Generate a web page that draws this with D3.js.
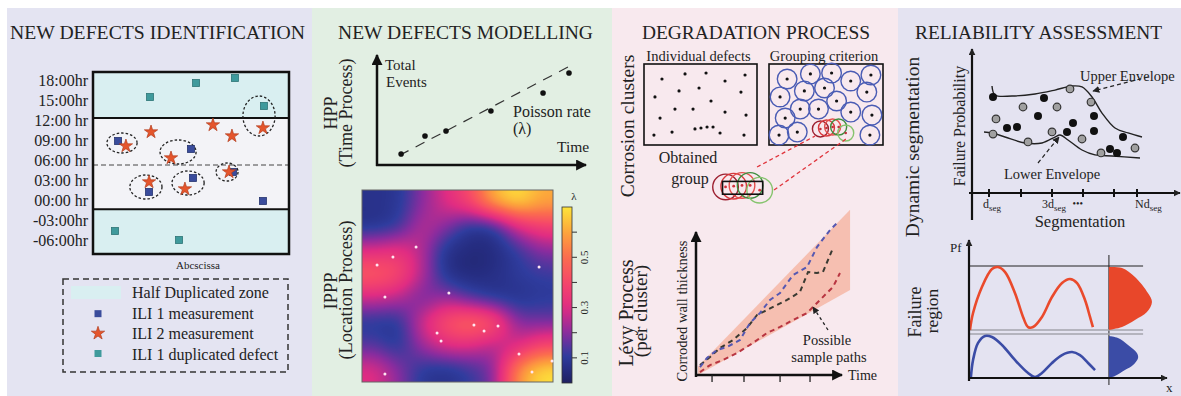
<!DOCTYPE html>
<html><head><meta charset="utf-8">
<script src="https://cdn.jsdelivr.net/npm/d3@7"></script>
<style>
body{margin:0;background:#fff}
svg{display:block}
text{font-family:'Liberation Serif','Times New Roman',serif;fill:#222}
</style>
</head><body>
<svg id="c" width="1181" height="396"></svg>
<script>
// ---------------- DATA ----------------
const panelTitles = ["NEW DEFECTS IDENTIFICATION","NEW DEFECTS MODELLING","DEGRADATION PROCESS","RELIABILITY ASSESSMENT"];

// Panel 1 : new defects identification (x: abscissa 0-100, y: hours)
const hourTicks = [18,15,12,9,6,3,0,-3,-6];
const hourLabels = ["18:00hr","15:00hr","12:00 hr","09:00 hr","06:00 hr","03:00 hr","00:00 hr","-03:00hr","-06:00hr"];
const hourDomain = [-8.1,19.2];
const zoneLimits = [12.3,-1.4];
const midLine = 5.25;
const dupDefects = [[29.1,15.45],[52.6,17.55],[72.4,18.3],[87.2,14.1],[11.2,-4.65],[43.9,-6.0]];
const ili1 = [[12.8,8.85],[50.0,7.65],[71.4,4.2],[51.0,3.3],[28.6,1.2],[86.7,-0.15]];
const ili2 = [[29.6,10.2],[16.8,8.1],[61.2,11.25],[70.9,9.6],[86.7,10.8],[39.8,6.3],[69.4,4.2],[28.6,2.7],[46.9,1.65]];
const matchEllipses = [[14.8,8.55,7.7,1.5],[43.4,7.2,9.2,1.8],[84.7,12.6,8.2,3.0],[68.4,4.2,5.6,1.35],[27.0,1.95,8.2,1.8],[48.5,2.55,8.2,1.8]];
const legendLabels = ["Half Duplicated zone","ILI 1 measurement","ILI 2 measurement","ILI 1 duplicated defect"];

// Panel 2 : HPP
const hppTime = [1.17,2.33,3.35,5.53,8.06,9.32];
const hppEvents = [1.02,2.69,3.15,5.0,6.67,8.52];
const hppRate = [[1.1,0.9],[9.5,9.3]];
// Panel 2 : IPPP intensity grid (rows top -> bottom)
const heatGrid = [
  [0.07,0.09,0.20,0.30,0.40,0.60,0.68,0.60],
  [0.08,0.12,0.25,0.20,0.10,0.12,0.30,0.38],
  [0.30,0.32,0.25,0.08,0.04,0.05,0.12,0.20],
  [0.45,0.40,0.25,0.08,0.04,0.06,0.10,0.12],
  [0.28,0.25,0.18,0.22,0.15,0.10,0.08,0.10],
  [0.10,0.10,0.28,0.42,0.48,0.42,0.20,0.18],
  [0.15,0.10,0.22,0.30,0.30,0.25,0.30,0.40],
  [0.30,0.20,0.10,0.08,0.12,0.20,0.55,0.68]
];
const ipppX = [0.079,0.162,0.283,0.12,0.455,0.393,0.414,0.586,0.639,0.712,0.822,0.89,0.995,0.927,0.12];
const ipppY = [0.609,0.651,0.703,0.443,0.464,0.255,0.214,0.297,0.266,0.292,0.146,0.052,0.109,0.599,0.042];
const lambdaTicks = [0.1,0.2,0.3,0.4,0.5,0.6];
const lambdaLabels = [0.1,0.3,0.5];

// Panel 3 : defects (0-100 box units)
const defectX = [15.9,36.3,54.9,71.7,89.4,9.7,31.0,48.7,85.8,59.3,14.2,27.4,43.4,71.7,90.3,8.8,24.8,45.1,50.4,55.8,61.1,67.3,88.5];
const defectY = [81.5,87.7,88.9,79.0,86.4,59.3,66.7,70.4,65.4,54.3,33.3,44.4,44.4,40.7,37.0,12.3,16.0,19.8,21.0,22.2,22.2,14.8,12.3];
const clusterIdx = [17,18,19,20,21];
const clusterColors = ["#9c2030","#d8383c","#e4504c","#3f8e3f","#86c46e"];
const groupLinks = [[[-10.5,-27.2],[40.4,11.1]],[[4.4,-55.6],[67.5,7.4]]];
// Panel 3 : Levy paths
const levyBlue = [[0.28,0.57],[0.77,1.21],[1.48,1.79],[2.18,2.0],[3.1,2.5],[3.8,3.71],[4.51,4.43],[5.21,5.36],[5.92,5.86],[6.83,7.14],[7.82,7.71],[8.52,9.14],[9.44,10.36],[10.0,10.93]];
const levyDark = [[0.28,0.71],[0.99,1.29],[1.69,1.93],[2.61,2.5],[3.59,3.36],[4.3,4.29],[5.0,4.64],[5.7,5.0],[6.41,5.36],[7.32,5.93],[7.89,7.36],[8.52,7.29],[8.94,7.36],[9.65,9.07]];
const levyRed = [[0.28,0.21],[0.99,0.71],[1.9,1.07],[2.89,1.57],[4.01,2.29],[5.0,3.0],[5.92,3.43],[6.83,3.93],[7.82,4.43],[8.73,5.36],[9.65,6.29],[10.14,7.29]];
const levyBand = [[0.14,0,0.6],[10.85,6.07,11.8]];
const levyTicks = [1.13,3.38,5.92,8.03];

// Panel 4 : reliability (x 0-100, y 0-100)
const pfBlack = [[10.5,68.1],[17.5,46.1],[22.5,46.8],[33,54.6],[36,67.4],[47.5,43.3],[50.5,49.6],[61,54.6],[61,44.0],[69,31.2],[72.5,28.4],[75.5,39.7]];
const pfGray = [[12,52.5],[10.5,41.8],[25.5,61.0],[28,36.2],[42.5,61.0],[40,43.3],[49,73.8],[59.5,64.5],[55,38.3],[64.5,28.4],[81.5,31.9]];
const upperEnv = [[10,75.9],[11.5,69.5],[20,68.8],[31.5,70.2],[41.5,73.0],[50,75.9],[55,75.2],[60,68.1],[65,56.7],[71.5,46.1],[78,42.6],[85,39.7]];
const lowerEnv = [[6,43.3],[10,42.6],[16.5,39.7],[26.5,35.5],[35,35.5],[41.5,39.7],[44,41.1],[48,37.6],[55,30.5],[61.5,27.0],[70,26.2],[84,24.8]];
const segTicks = [8.5,24.5,40,55.5,71,82.5];
const segLabels = [["d","seg",5.5],["3d","seg",35],["•••","",50.3],["Nd","seg",81.5]];
// Panel 4 : failure region (x 0-100, y 0-100)
const pfRed = [[0.5,42.9],[2.1,58.0],[6.7,81.3],[11.9,97.3],[15.0,99.1],[18.7,94.6],[23.8,75.9],[28.0,54.5],[30.6,45.5],[33.2,45.5],[37.8,54.5],[43.0,72.3],[48.2,84.8],[52.3,88.4],[56.0,84.8],[60.1,69.6],[62.7,54.5],[64.2,45.5]];
const pfBlue = [[1.0,0.9],[2.1,16.1],[4.7,31.3],[8.3,37.5],[11.9,36.6],[17.1,29.5],[23.8,16.1],[30.6,4.5],[34.2,0.9],[37.8,4.5],[43.0,13.4],[48.2,20.5],[53.4,23.2],[57.5,20.5],[61.7,13.4],[65.3,7.1]];
const distRed = [[72.5,99.1],[79.3,98.2],[86.0,90.2],[92.7,75.9],[94.8,67.9],[92.2,58.9],[86.0,51.8],[79.3,45.5],[72.5,42.9]];
const distBlue = [[72.5,37.5],[77.2,35.7],[82.4,29.5],[87.0,22.3],[87.6,17.9],[85.0,11.6],[80.8,7.1],[75.6,1.8],[72.5,0]];
const failLimits = [100,42.9,39.3];
const failSplitX = 72.5;

// ---------------- DRAWING ----------------
const svg = d3.select('#c');
const defs = svg.append('defs');
function marker(id, size, color){
  defs.append('marker').attr('id',id).attr('viewBox','0 0 10 10').attr('refX',9).attr('refY',5)
    .attr('markerWidth',size).attr('markerHeight',size).attr('markerUnits','userSpaceOnUse').attr('orient','auto')
    .append('path').attr('d','M0,0L10,5L0,10Z').attr('fill',color);
}
marker('ah',11,'#111'); marker('ahs',7,'#222');

const panels = [[7,312,'#e4e4f2'],[312,612,'#e2efe3'],[612,898,'#f8e9ee'],[898,1181,'#e4e3f1']];
panels.forEach(p=>svg.append('rect').attr('x',p[0]).attr('y',8).attr('width',p[1]-p[0]).attr('height',388).attr('fill',p[2]));
const titleLayout = [[157.5,295],[465.5,255],[756,228],[1038.5,247]];
panelTitles.forEach((t,i)=>svg.append('text').attr('x',titleLayout[i][0]).attr('y',39).attr('text-anchor','middle')
  .attr('font-size',19.5).attr('textLength',titleLayout[i][1]).attr('lengthAdjust','spacingAndGlyphs').text(t));

function rotText(x,y,t,size){
  return svg.append('text').attr('transform',`translate(${x},${y}) rotate(-90)`).attr('text-anchor','middle')
    .attr('dominant-baseline','central').attr('font-size',size).text(t);
}

// ---- Panel 1
{
  const x = d3.scaleLinear().domain([0,100]).range([93,289]);
  const y = d3.scaleLinear().domain(hourDomain).range([254,72]);
  const g = svg.append('g');
  g.append('rect').attr('x',x(0)).attr('y',y(hourDomain[1])).attr('width',x(100)-x(0)).attr('height',y(zoneLimits[0])-y(hourDomain[1])).attr('fill','#d9eff1');
  g.append('rect').attr('x',x(0)).attr('y',y(zoneLimits[0])).attr('width',x(100)-x(0)).attr('height',y(zoneLimits[1])-y(zoneLimits[0])).attr('fill','#f3f3f7');
  g.append('rect').attr('x',x(0)).attr('y',y(zoneLimits[1])).attr('width',x(100)-x(0)).attr('height',y(hourDomain[0])-y(zoneLimits[1])).attr('fill','#d9eff1');
  zoneLimits.forEach(v=>g.append('line').attr('x1',x(0)).attr('x2',x(100)).attr('y1',y(v)).attr('y2',y(v)).attr('stroke','#111').attr('stroke-width',2));
  g.append('line').attr('x1',x(0)).attr('x2',x(100)).attr('y1',y(midLine)).attr('y2',y(midLine)).attr('stroke','#444').attr('stroke-width',1).attr('stroke-dasharray','5,3');
  g.append('rect').attr('x',x(0)).attr('y',y(hourDomain[1])).attr('width',x(100)-x(0)).attr('height',y(hourDomain[0])-y(hourDomain[1])).attr('fill','none').attr('stroke','#111').attr('stroke-width',2.5);
  const ax = g.append('g').attr('transform',`translate(${x(0)-3},0)`).call(d3.axisLeft(y).tickValues(hourTicks).tickFormat((d,i)=>hourLabels[i]).tickSize(0).tickPadding(2));
  ax.select('.domain').remove();
  ax.selectAll('text').attr('font-size',16).attr('font-family',"'Liberation Serif',serif").attr('fill','#222');
  g.selectAll('.el').data(matchEllipses).join('ellipse').attr('cx',d=>x(d[0])).attr('cy',d=>y(d[1]))
    .attr('rx',d=>x(d[2])-x(0)).attr('ry',d=>y(0)-y(d[3])).attr('fill','none').attr('stroke','#222').attr('stroke-width',1.3).attr('stroke-dasharray','2.5,2');
  const sq = (sel,data,fill,stroke)=>sel.selectAll(null).data(data).join('rect').attr('x',d=>x(d[0])-3.5).attr('y',d=>y(d[1])-3.5)
    .attr('width',7).attr('height',7).attr('fill',fill).attr('stroke',stroke).attr('stroke-width',0.8);
  sq(g,dupDefects,'#3f9a9c','#2d7476');
  sq(g,ili1,'#3a4c9c','#26356f');
  const star = d3.symbol(d3.symbolStar,55);
  g.selectAll(null).data(ili2).join('path').attr('d',star).attr('transform',d=>`translate(${x(d[0])},${y(d[1])})`)
    .attr('fill','#e5552c').attr('stroke','#b23c1c').attr('stroke-width',0.7);
  svg.append('text').attr('x',198).attr('y',269).attr('text-anchor','middle').attr('font-size',11).text('Abcscissa');
  // legend
  svg.append('rect').attr('x',63).attr('y',279).attr('width',225).attr('height',93).attr('fill','none').attr('stroke','#333').attr('stroke-width',1.5).attr('stroke-dasharray','6,4');
  const ly = d3.scalePoint().domain(legendLabels).range([293,355]);
  svg.append('rect').attr('x',71).attr('y',ly(legendLabels[0])-7).attr('width',50).attr('height',13).attr('fill','#d9eff1');
  svg.append('rect').attr('x',94.5).attr('y',ly(legendLabels[1])-3.5).attr('width',7).attr('height',7).attr('fill','#3a4c9c');
  svg.append('path').attr('d',star).attr('transform',`translate(98,${ly(legendLabels[2])-1})`).attr('fill','#e5552c').attr('stroke','#b23c1c').attr('stroke-width',0.7);
  svg.append('rect').attr('x',94.5).attr('y',ly(legendLabels[3])-5).attr('width',7).attr('height',7).attr('fill','#3f9a9c');
  legendLabels.forEach(l=>svg.append('text').attr('x',132).attr('y',ly(l)+5).attr('font-size',16).text(l));
}

// ---- Panel 2 : HPP
{
  const x = d3.scaleLinear().domain([0,10]).range([377,583]);
  const y = d3.scaleLinear().domain([0,10]).range([165,57]);
  rotText(331,113,'HPP',18);
  rotText(346,113,'(Time Process)',18);
  svg.append('line').attr('x1',x(0)).attr('y1',y(0)+1).attr('x2',x(0)).attr('y2',55).attr('stroke','#111').attr('stroke-width',2.5).attr('marker-end','url(#ah)');
  svg.append('line').attr('x1',x(0)-1).attr('y1',y(0)).attr('x2',586).attr('y2',y(0)).attr('stroke','#111').attr('stroke-width',2.5).attr('marker-end','url(#ah)');
  svg.append('line').attr('x1',x(hppRate[0][0])).attr('y1',y(hppRate[0][1])).attr('x2',x(hppRate[1][0])).attr('y2',y(hppRate[1][1]))
    .attr('stroke','#333').attr('stroke-width',1.2).attr('stroke-dasharray','10,8');
  svg.selectAll(null).data(hppTime).join('circle').attr('cx',d=>x(d)).attr('cy',(d,i)=>y(hppEvents[i])).attr('r',2.8).attr('fill','#111');
  svg.append('text').attr('x',385).attr('y',70).attr('font-size',15).text('Total');
  svg.append('text').attr('x',386).attr('y',87).attr('font-size',15).text('Events');
  svg.append('text').attr('x',513).attr('y',117).attr('font-size',16).text('Poisson rate');
  svg.append('text').attr('x',513).attr('y',134).attr('font-size',16).text('(λ)');
  svg.append('text').attr('x',557).attr('y',152).attr('font-size',15.5).text('Time');
}

// ---- Panel 2 : IPPP
{
  const x = d3.scaleLinear().domain([0,1]).range([362,553]);
  const y = d3.scaleLinear().domain([0,1]).range([382,190]);
  const color = d3.scaleLinear().domain([0,0.05,0.11,0.2,0.3,0.4,0.5,0.6,0.7])
    .range(['#1f2160','#252c80','#2f3c9e','#8a2c9e','#e02c82','#f5466a','#fb6c4e','#fca53b','#fde43a']).clamp(true);
  rotText(331,291,'IPPP',18.5);
  rotText(346,290,'(Location Process)',18.5);
  const W = Math.round(x(1)-x(0)), H = Math.round(y(0)-y(1));
  const n = heatGrid.length, m = heatGrid[0].length, vmax = 0.7;
  const small = document.createElement('canvas'); small.width = m+2; small.height = n+2;
  const sctx = small.getContext('2d'); const sd = sctx.createImageData(m+2,n+2);
  for(let r=0;r<n+2;r++) for(let c=0;c<m+2;c++){
    const rr = Math.min(n-1,Math.max(0,r-1)), cc = Math.min(m-1,Math.max(0,c-1));
    const v = Math.round(heatGrid[rr][cc]/vmax*255), k=(r*(m+2)+c)*4;
    sd.data[k]=v; sd.data[k+1]=v; sd.data[k+2]=v; sd.data[k+3]=255;
  }
  sctx.putImageData(sd,0,0);
  const cw = W/m, ch = H/n;
  const mid = document.createElement('canvas'); mid.width = Math.round(W+2*cw); mid.height = Math.round(H+2*ch);
  const mctx = mid.getContext('2d'); mctx.imageSmoothingEnabled = true; mctx.imageSmoothingQuality='high';
  mctx.drawImage(small,0,0,mid.width,mid.height);
  const fin = document.createElement('canvas'); fin.width=W; fin.height=H;
  const fctx = fin.getContext('2d'); fctx.filter='blur(7px)'; fctx.drawImage(mid,-cw,-ch); fctx.filter='none';
  const fd = fctx.getImageData(0,0,W,H);
  for(let k=0;k<fd.data.length;k+=4){
    const c = d3.rgb(color(fd.data[k]/255*vmax));
    fd.data[k]=c.r; fd.data[k+1]=c.g; fd.data[k+2]=c.b; fd.data[k+3]=255;
  }
  fctx.putImageData(fd,0,0);
  svg.append('image').attr('x',x(0)).attr('y',y(1)).attr('width',W).attr('height',H).attr('preserveAspectRatio','none').attr('href',fin.toDataURL());
  svg.append('rect').attr('x',x(0)).attr('y',y(1)).attr('width',W).attr('height',H).attr('fill','none').attr('stroke','#666').attr('stroke-width',1);
  svg.selectAll(null).data(ipppX).join('circle').attr('cx',d=>x(d)).attr('cy',(d,i)=>y(ipppY[i])).attr('r',1.5).attr('fill','#ffe6f2');
  // colorbar
  const yc = d3.scaleLinear().domain([0,vmax]).range([383,207]);
  const grad = defs.append('linearGradient').attr('id','lam').attr('x1',0).attr('y1',1).attr('x2',0).attr('y2',0);
  d3.range(0,1.001,0.05).forEach(t=>grad.append('stop').attr('offset',t).attr('stop-color',color(t*vmax)));
  svg.append('rect').attr('x',562).attr('y',yc(vmax)).attr('width',10).attr('height',yc(0)-yc(vmax)).attr('fill','url(#lam)').attr('stroke','#333').attr('stroke-width',0.8);
  svg.selectAll(null).data(lambdaTicks).join('line').attr('x1',572).attr('x2',577).attr('y1',d=>yc(d)).attr('y2',d=>yc(d)).attr('stroke','#333').attr('stroke-width',1);
  lambdaLabels.forEach(v=>rotText(584,yc(v),String(v),11));
  svg.append('text').attr('x',574).attr('y',200).attr('text-anchor','middle').attr('font-size',11).text('λ');
}

// ---- Panel 3 : corrosion clusters
{
  rotText(627,126,'Corrosion clusters',19.5);
  const xL = d3.scaleLinear().domain([0,100]).range([644,757]);
  const xR = d3.scaleLinear().domain([0,100]).range([769,883]);
  const y = d3.scaleLinear().domain([0,100]).range([145,64]);
  const xO = d3.scaleLinear().domain([0,100]).range([656.15,810]);
  const yO = d3.scaleLinear().domain([0,100]).range([199.8,135]);
  svg.append('text').attr('x',698.5).attr('y',61).attr('text-anchor','middle').attr('font-size',14.5).text('Individual defects');
  svg.append('text').attr('x',824).attr('y',61).attr('text-anchor','middle').attr('font-size',14.5).text('Grouping criterion');
  [xL,xR].forEach(sx=>svg.append('rect').attr('x',sx(0)).attr('y',y(100)).attr('width',sx(100)-sx(0)).attr('height',y(0)-y(100)).attr('fill','none').attr('stroke','#111').attr('stroke-width',1.6));
  svg.selectAll(null).data(defectX).join('circle').attr('cx',d=>xL(d)).attr('cy',(d,i)=>y(defectY[i])).attr('r',1.6).attr('fill','#111');
  const idx = d3.range(defectX.length);
  const nonCl = idx.filter(i=>!clusterIdx.includes(i));
  svg.selectAll(null).data(nonCl).join('circle').attr('cx',i=>xR(defectX[i])).attr('cy',i=>y(defectY[i])).attr('r',9.8)
    .attr('fill','none').attr('stroke','#4a5cb4').attr('stroke-width',1.4);
  svg.selectAll(null).data(nonCl).join('circle').attr('cx',i=>xR(defectX[i])).attr('cy',i=>y(defectY[i])).attr('r',1.6).attr('fill','#111');
  svg.selectAll(null).data(clusterIdx).join('circle').attr('cx',i=>xR(defectX[i])).attr('cy',i=>y(defectY[i])).attr('r',8)
    .attr('fill','none').attr('stroke',(i,k)=>clusterColors[k]).attr('stroke-width',1.4);
  svg.selectAll(null).data(clusterIdx).join('circle').attr('cx',i=>xR(defectX[i])).attr('cy',i=>y(defectY[i])).attr('r',1.3).attr('fill','#c0303a');
  // links
  groupLinks.forEach(l=>svg.append('line').attr('x1',xR(l[0][0])).attr('y1',y(l[0][1])).attr('x2',xR(l[1][0])).attr('y2',y(l[1][1]))
    .attr('stroke','#e0343c').attr('stroke-width',1.3).attr('stroke-dasharray','4,3'));
  // obtained group
  svg.append('text').attr('x',688).attr('y',163).attr('text-anchor','middle').attr('font-size',16).text('Obtained');
  svg.append('text').attr('x',690).attr('y',184).attr('text-anchor','middle').attr('font-size',16).text('group');
  svg.selectAll(null).data(clusterIdx).join('circle').attr('cx',i=>xO(defectX[i])).attr('cy',i=>yO(defectY[i])).attr('r',12.8)
    .attr('fill','none').attr('stroke',(i,k)=>clusterColors[k]).attr('stroke-width',1.4);
  const gx = clusterIdx.map(i=>xO(defectX[i])), gy = clusterIdx.map(i=>yO(defectY[i]));
  svg.append('rect').attr('x',d3.min(gx)-3).attr('y',d3.min(gy)-4).attr('width',d3.max(gx)-d3.min(gx)+6).attr('height',d3.max(gy)-d3.min(gy)+8)
    .attr('fill','none').attr('stroke','#111').attr('stroke-width',1.6);
  svg.selectAll(null).data(clusterIdx).join('circle').attr('cx',i=>xO(defectX[i])).attr('cy',i=>yO(defectY[i])).attr('r',1.4).attr('fill','#d0303a');
}

// ---- Panel 3 : Levy process
{
  const x = d3.scaleLinear().domain([0,10]).range([696,838]);
  const y = d3.scaleLinear().domain([0,10]).range([375,235]);
  rotText(626,313,'Lévy Process',20);
  rotText(640,311,'(per cluster)',19);
  rotText(682,311,'Corroded wall thickness',14.5);
  const area = d3.area().x(d=>x(d[0])).y0(d=>y(d[1])).y1(d=>y(d[2]));
  svg.append('path').attr('d',area(levyBand)).attr('fill','#f6b7a6').attr('opacity',0.85);
  const line = d3.line().x(d=>x(d[0])).y(d=>y(d[1]));
  [[levyRed,'#b83440'],[levyDark,'#3a3a32'],[levyBlue,'#5558b2']].forEach(p=>svg.append('path').attr('d',line(p[0]))
    .attr('fill','none').attr('stroke',p[1]).attr('stroke-width',2).attr('stroke-dasharray','5,4'));
  svg.append('line').attr('x1',x(0)).attr('y1',y(0)+2).attr('x2',x(0)).attr('y2',232).attr('stroke','#111').attr('stroke-width',2.5).attr('marker-end','url(#ah)');
  svg.append('line').attr('x1',x(0)-1).attr('y1',y(0)).attr('x2',842).attr('y2',y(0)).attr('stroke','#111').attr('stroke-width',2.5).attr('marker-end','url(#ah)');
  svg.selectAll(null).data(levyTicks).join('line').attr('x1',d=>x(d)).attr('x2',d=>x(d)).attr('y1',y(0)).attr('y2',y(0)+7).attr('stroke','#222').attr('stroke-width',1.3);
  svg.append('text').attr('x',848).attr('y',380).attr('font-size',14).text('Time');
  svg.append('text').attr('x',827).attr('y',345).attr('text-anchor','middle').attr('font-size',14.5).text('Possible');
  svg.append('text').attr('x',829).attr('y',362).attr('text-anchor','middle').attr('font-size',14.5).text('sample paths');
  svg.append('line').attr('x1',828).attr('y1',330).attr('x2',813).attr('y2',307).attr('stroke','#222').attr('stroke-width',1.3).attr('stroke-dasharray','3,3').attr('marker-end','url(#ahs)');
}

// ---- Panel 4 : reliability
{
  const x = d3.scaleLinear().domain([0,100]).range([972,1172]);
  const y = d3.scaleLinear().domain([0,100]).range([193,52]);
  rotText(912,147,'Dynamic segmentation',19.5);
  rotText(959,126,'Failure Probability',16);
  svg.append('line').attr('x1',x(0)).attr('y1',220).attr('x2',x(0)).attr('y2',49).attr('stroke','#111').attr('stroke-width',2.2).attr('marker-end','url(#ahs)');
  svg.append('line').attr('x1',969).attr('y1',y(0)).attr('x2',1180).attr('y2',y(0)).attr('stroke','#111').attr('stroke-width',2.2).attr('marker-end','url(#ahs)');
  svg.selectAll(null).data(segTicks).join('line').attr('x1',d=>x(d)).attr('x2',d=>x(d)).attr('y1',y(0)-4).attr('y2',y(0)+4).attr('stroke','#111').attr('stroke-width',2);
  segLabels.forEach(l=>{
    const t = svg.append('text').attr('x',x(l[2])).attr('y',l[1]?208:207).attr('font-size',l[1]?12:10);
    t.append('tspan').text(l[0]);
    if(l[1]) t.append('tspan').attr('font-size',9).attr('dy',3).text(l[1]);
  });
  svg.append('text').attr('x',1080).attr('y',227).attr('text-anchor','middle').attr('font-size',16.5).text('Segmentation');
  const curve = d3.line().x(d=>x(d[0])).y(d=>y(d[1])).curve(d3.curveCatmullRom);
  [upperEnv,lowerEnv].forEach(e=>svg.append('path').attr('d',curve(e)).attr('fill','none').attr('stroke','#222').attr('stroke-width',1.4));
  svg.selectAll(null).data(pfGray).join('circle').attr('cx',d=>x(d[0])).attr('cy',d=>y(d[1])).attr('r',3.8).attr('fill','#a0a0a0').attr('stroke','#333').attr('stroke-width',1.2);
  svg.selectAll(null).data(pfBlack).join('circle').attr('cx',d=>x(d[0])).attr('cy',d=>y(d[1])).attr('r',4).attr('fill','#111');
  svg.append('text').attr('x',1080).attr('y',81).attr('font-size',14.5).text('Upper Envelope');
  svg.append('text').attr('x',1004).attr('y',179).attr('font-size',14.5).text('Lower Envelope');
  svg.append('line').attr('x1',1148).attr('y1',77).attr('x2',1093).attr('y2',91).attr('stroke','#222').attr('stroke-width',1.2).attr('stroke-dasharray','4,3').attr('marker-end','url(#ahs)');
  svg.append('line').attr('x1',1038).attr('y1',163).attr('x2',1059).attr('y2',137).attr('stroke','#222').attr('stroke-width',1.2).attr('stroke-dasharray','4,3').attr('marker-end','url(#ahs)');
}

// ---- Panel 4 : failure region
{
  const x = d3.scaleLinear().domain([0,100]).range([969,1162]);
  const y = d3.scaleLinear().domain([0,100]).range([378,266]);
  rotText(915,312,'Failure',18);
  rotText(932,311,'region',17.5);
  svg.append('text').attr('x',950).attr('y',252).attr('font-size',13).text('Pf');
  svg.append('line').attr('x1',x(failSplitX)).attr('x2',x(failSplitX)).attr('y1',255).attr('y2',385).attr('stroke','#222').attr('stroke-width',1);
  svg.append('line').attr('x1',x(0)).attr('x2',x(90.2)).attr('y1',y(failLimits[0])).attr('y2',y(failLimits[0])).attr('stroke','#222').attr('stroke-width',1);
  [failLimits[1],failLimits[2]].forEach(v=>svg.append('line').attr('x1',x(0)).attr('x2',x(90.2)).attr('y1',y(v)).attr('y2',y(v)).attr('stroke','#a4a4ac').attr('stroke-width',1.6));
  const c = d3.line().x(d=>x(d[0])).y(d=>y(d[1])).curve(d3.curveCatmullRom);
  svg.append('path').attr('d',c(distRed)+'Z').attr('fill','#e8472a');
  svg.append('path').attr('d',c(distBlue)+'Z').attr('fill','#3b4ca6');
  svg.append('path').attr('d',c(pfRed)).attr('fill','none').attr('stroke','#ea4a2c').attr('stroke-width',2.6);
  svg.append('path').attr('d',c(pfBlue)).attr('fill','none').attr('stroke','#3b4ca6').attr('stroke-width',2.6);
  svg.append('line').attr('x1',x(0)).attr('y1',381).attr('x2',x(0)).attr('y2',240).attr('stroke','#111').attr('stroke-width',2.2).attr('marker-end','url(#ahs)');
  svg.append('line').attr('x1',x(0)-1).attr('y1',y(0)).attr('x2',1167).attr('y2',y(0)).attr('stroke','#111').attr('stroke-width',2.2).attr('marker-end','url(#ahs)');
  svg.append('text').attr('x',1166).attr('y',392).attr('font-size',13).text('x');
}
</script>
</body></html>
